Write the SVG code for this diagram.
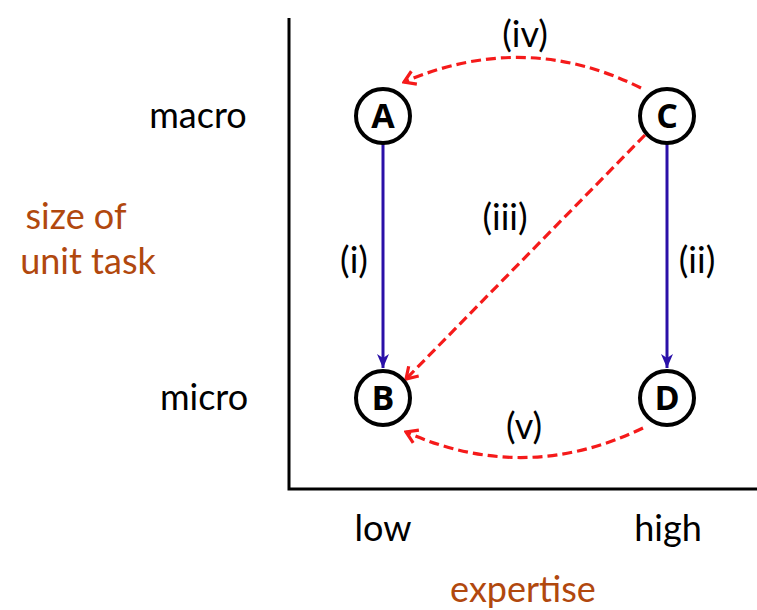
<svg xmlns="http://www.w3.org/2000/svg" width="757" height="610" viewBox="0 0 757 610">
<style>
.t{font-family:Lato,"Open Sans","Liberation Sans",sans-serif;font-size:36px;fill:#000;text-anchor:middle}
.br{fill:#b1480e}
.node circle{fill:#fff;stroke:#000;stroke-width:4}
.node text{font-family:"Open Sans","Liberation Sans",sans-serif;font-weight:bold;font-size:34px;text-anchor:middle;fill:#000}
.red{fill:none;stroke:#f51a1a;stroke-width:3.2;stroke-dasharray:10 5}
.blue{fill:none;stroke:#2a10a8;stroke-width:3}
</style>
<defs>
<marker id="rh" markerUnits="userSpaceOnUse" markerWidth="18" markerHeight="18" viewBox="0 0 18 18" refX="16" refY="9" orient="auto">
<path d="M5,2 L16,9 L5,16" fill="none" stroke="#f51a1a" stroke-width="3.2"/>
</marker>
<marker id="bh" markerUnits="userSpaceOnUse" markerWidth="16" markerHeight="16" viewBox="0 0 16 16" refX="14" refY="8" orient="auto">
<path d="M0,2 L14,8 L0,14 L4,8 Z" fill="#2a10a8"/>
</marker>
</defs>
<g id="axes" fill="none" stroke="#000" stroke-width="3">
<path d="M289,18 L289,489 L757,489"/>
</g>
<g id="labels">
<text class="t" x="198" y="128">macro</text>
<text class="t" x="204" y="410">micro</text>
<text class="t br" x="76" y="229">size of</text>
<text class="t br" x="88" y="274">unit task</text>
<text class="t" x="383" y="541">low</text>
<text class="t" x="668" y="541">high</text>
<text class="t br" x="523" y="602">expertise</text>
</g>
<g id="connectors">
<path class="blue" d="M383,143 L383,368" marker-end="url(#bh)"/>
<path class="blue" d="M667,143 L667,368" marker-end="url(#bh)"/>
<path class="red" d="M641,88 Q525,30 404,82" marker-end="url(#rh)"/>
<path class="red" d="M645,135 L406,379" marker-end="url(#rh)"/>
<path class="red" d="M643,428 Q525,485 406,432" marker-end="url(#rh)"/>
<text class="t" x="525" y="47">(iv)</text>
<text class="t" x="505" y="230">(iii)</text>
<text class="t" x="354" y="273">(i)</text>
<text class="t" x="697" y="273">(ii)</text>
<text class="t" x="524" y="439">(v)</text>
</g>
<g id="A" class="node"><circle cx="383" cy="116" r="27"/><text x="383" y="128">A</text></g>
<g id="C" class="node"><circle cx="667" cy="116" r="27"/><text x="667" y="128">C</text></g>
<g id="B" class="node"><circle cx="383" cy="398" r="27"/><text x="383" y="410">B</text></g>
<g id="D" class="node"><circle cx="667" cy="398" r="27"/><text x="667" y="410">D</text></g>
</svg>
